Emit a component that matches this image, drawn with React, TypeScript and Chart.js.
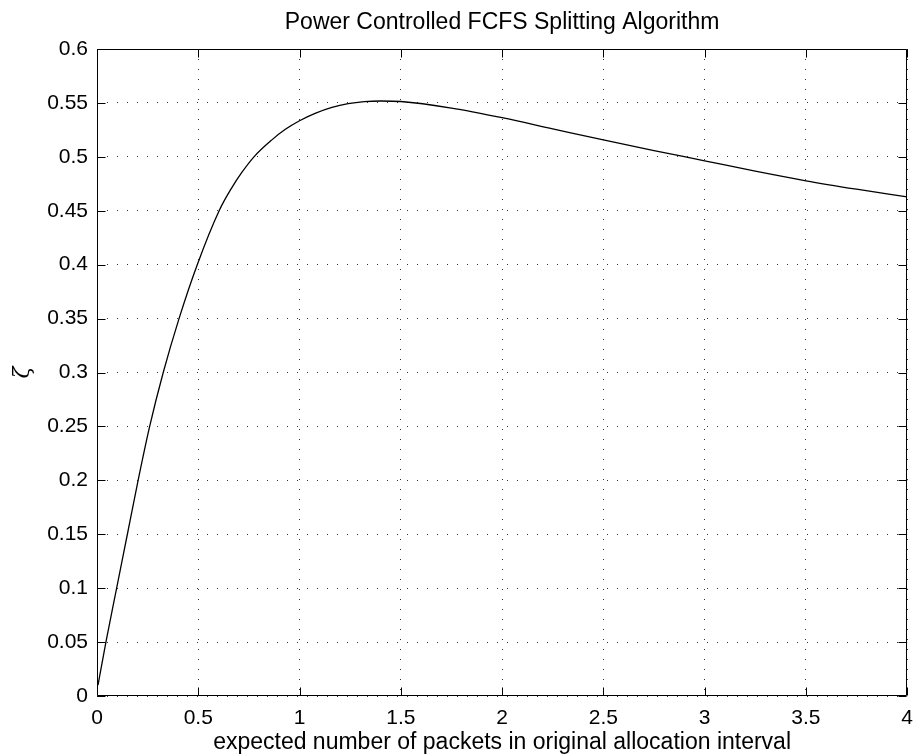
import React, { useEffect, useRef } from "react";
import { Chart, registerables } from "chart.js";

Chart.register(...registerables);

const titleText = "Power Controlled FCFS Splitting Algorithm";
const xAxisTitle = "expected number of packets in original allocation interval";
const yAxisTitle = "ζ";

const xTickValues = [0, 0.5, 1, 1.5, 2, 2.5, 3, 3.5, 4];
const xTickLabels = ["0", "0.5", "1", "1.5", "2", "2.5", "3", "3.5", "4"];
const yTickValues = [0, 0.05, 0.1, 0.15, 0.2, 0.25, 0.3, 0.35, 0.4, 0.45, 0.5, 0.55, 0.6];
const yTickLabels = ["0", "0.05", "0.1", "0.15", "0.2", "0.25", "0.3", "0.35", "0.4", "0.45", "0.5", "0.55", "0.6"];

const curveX = [
  0.005, 0.044, 0.097, 0.15, 0.203, 0.26, 0.327, 0.405, 0.495, 0.603, 0.666,
  0.715, 0.775, 0.862, 0.93, 1.0, 1.08, 1.16, 1.24, 1.32, 1.4, 1.5, 1.75, 2.0,
  2.25, 2.5, 2.75, 3.0, 3.25, 3.5, 3.75, 4.0,
];
const curveY = [
  0.01, 0.05, 0.1, 0.15, 0.2, 0.25, 0.3, 0.35, 0.4, 0.45, 0.4715,
  0.4855, 0.5, 0.5155, 0.5255, 0.5335, 0.5405, 0.5458, 0.5493, 0.5512, 0.5518, 0.5513, 0.5452, 0.5363,
  0.526, 0.5157, 0.5058, 0.4963, 0.4867, 0.4778, 0.47, 0.4628,
];

const FONT = "'Liberation Sans', Arial, Helvetica, sans-serif";

const framePlugin = {
  id: "matlabFrame",
  afterDraw(chart: any) {
    const { ctx, chartArea } = chart;
    const { left, right, top, bottom } = chartArea;
    const xs = chart.scales.x;
    const ys = chart.scales.y;
    const tl = 8;
    ctx.save();
    ctx.strokeStyle = "#000";
    ctx.lineWidth = 1;
    ctx.setLineDash([]);
    ctx.beginPath();
    const L = Math.round(left) + 0.5;
    const R = Math.round(right) - 0.5;
    const T = Math.round(top) + 0.5;
    const B = Math.round(bottom) - 0.5;
    ctx.rect(L, T, R - L, B - T);
    xTickValues.forEach((v) => {
      const px = Math.round(xs.getPixelForValue(v)) + 0.5;
      ctx.moveTo(px, B);
      ctx.lineTo(px, B - tl);
      ctx.moveTo(px, T);
      ctx.lineTo(px, T + tl);
    });
    yTickValues.forEach((v) => {
      const py = Math.round(ys.getPixelForValue(v)) + 0.5;
      ctx.moveTo(L, py);
      ctx.lineTo(L + tl, py);
      ctx.moveTo(R, py);
      ctx.lineTo(R - tl, py);
    });
    ctx.stroke();
    ctx.restore();
  },
};

export default function App() {
  const ref = useRef<HTMLCanvasElement | null>(null);

  useEffect(() => {
    if (!ref.current) return;
    const data = curveX.map((x, i) => ({ x, y: curveY[i] }));
    const chart = new Chart(ref.current, {
      type: "line",
      data: {
        datasets: [
          {
            data,
            borderColor: "#000",
            borderWidth: 1.3,
            pointRadius: 0,
            fill: false,
            cubicInterpolationMode: "monotone",
          },
        ],
      },
      options: {
        animation: false,
        responsive: true,
        maintainAspectRatio: false,
        layout: { padding: { top: 0, right: 7, bottom: 0, left: 0 } },
        plugins: {
          legend: { display: false },
          tooltip: { enabled: false },
          title: {
            display: true,
            fullSize: false,
            text: titleText,
            color: "#000",
            font: { family: FONT, size: 23, weight: "normal" },
            padding: { top: 9, bottom: 12.4 },
          },
        },
        scales: {
          x: {
            type: "linear",
            min: 0,
            max: 4,
            afterBuildTicks: (s: any) => {
              s.ticks = xTickValues.map((v) => ({ value: v }));
            },
            afterFit: (s: any) => {
              s.height = 60;
            },
            ticks: {
              color: "#000",
              font: { family: FONT, size: 21 },
              padding: 10,
              maxRotation: 0,
              autoSkip: false,
              callback: (v: any) => {
                const i = xTickValues.findIndex((t) => Math.abs(t - v) < 1e-9);
                return i >= 0 ? xTickLabels[i] : "";
              },
            },
            grid: {
              color: "#333",
              lineWidth: 1,
              drawTicks: false,
            },
            border: { display: false, dash: [1, 9] },
            title: {
              display: true,
              text: xAxisTitle,
              color: "#000",
              font: { family: FONT, size: 23 },
              padding: { top: 0, bottom: 0 },
            },
          },
          y: {
            type: "linear",
            min: 0,
            max: 0.6,
            afterBuildTicks: (s: any) => {
              s.ticks = yTickValues.map((v) => ({ value: v }));
            },
            afterFit: (s: any) => {
              s.width = 97;
            },
            ticks: {
              color: "#000",
              font: { family: FONT, size: 21 },
              padding: 9,
              autoSkip: false,
              callback: (v: any) => {
                const i = yTickValues.findIndex((t) => Math.abs(t - v) < 1e-9);
                return i >= 0 ? yTickLabels[i] : "";
              },
            },
            grid: {
              color: "#333",
              lineWidth: 1,
              drawTicks: false,
            },
            border: { display: false, dash: [1, 9] },
            title: {
              display: true,
              text: yAxisTitle,
              color: "#000",
              font: { family: "'DejaVu Serif', 'Liberation Serif', serif", size: 22, style: "italic" },
              padding: { top: 10, bottom: 0 },
            },
          },
        },
      },
      plugins: [framePlugin],
    });
    return () => chart.destroy();
  }, []);

  return (
    <div style={{ position: "absolute", left: 0, top: 0, width: 923, height: 756, background: "#fff" }}>
      <canvas ref={ref} />
    </div>
  );
}
